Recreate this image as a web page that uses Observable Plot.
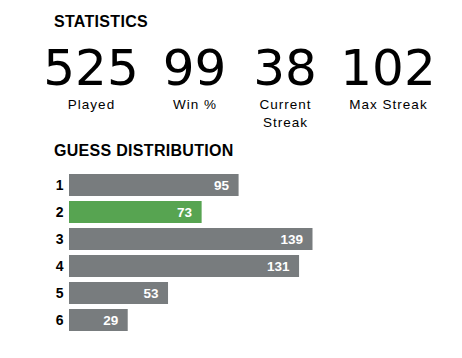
<!DOCTYPE html>
<html>
<head>
<meta charset="utf-8">
<script src="https://cdn.jsdelivr.net/npm/d3@7"></script>
<script src="https://cdn.jsdelivr.net/npm/@observablehq/plot@0.6"></script>
<style>
  html, body { margin: 0; padding: 0; background: #ffffff; }
  body { position: relative; width: 462px; height: 358px; overflow: hidden; font-family: "Liberation Sans", Arial, sans-serif; color: #000; }
  .h { position: absolute; left: 54px; font-size: 16px; line-height: 16px; font-weight: bold; letter-spacing: 0.3px; white-space: nowrap; }
  .num { position: absolute; width: 120px; text-align: center; font-family: "DejaVu Sans", sans-serif; font-size: 50px; line-height: 50px; white-space: nowrap; }
  .lab { position: absolute; width: 120px; text-align: center; font-size: 13.5px; line-height: 18px; letter-spacing: 1px; white-space: pre-line; }
  #chart { position: absolute; left: 0; top: 165px; }
</style>
</head>
<body>
<div class="h" style="top:14px">STATISTICS</div>
<div id="stats"></div>
<div class="h" style="top:143px">GUESS DISTRIBUTION</div>
<div id="chart"></div>
<script>
// Statistics
const statValues = [525, 99, 38, 102];
const statLabels = ["Played", "Win %", "Current\nStreak", "Max Streak"];
// Guess distribution
const guesses = ["1", "2", "3", "4", "5", "6"];
const counts = [95, 73, 139, 131, 53, 29];
const highlightGuess = "2";

// header stats (HTML text)
const statCenters = [91, 194.5, 285, 388];
const statsDiv = document.getElementById("stats");
statValues.forEach((v, i) => {
  const n = document.createElement("div");
  n.className = "num";
  n.style.left = (statCenters[i] - 60) + "px";
  n.style.top = "42.7px";
  n.textContent = String(v);
  statsDiv.appendChild(n);
  const l = document.createElement("div");
  l.className = "lab";
  l.style.left = (statCenters[i] - 60 + 0.5) + "px";
  l.style.top = "96.3px";
  l.textContent = statLabels[i];
  statsDiv.appendChild(l);
});

const data = guesses.map((g, i) => ({guess: g, count: counts[i]}));

const chart = Plot.plot({
  width: 462,
  height: 180,
  marginLeft: 79,
  marginRight: 149.5,
  marginTop: 3,
  marginBottom: 8,
  style: {fontFamily: "'Liberation Sans', Arial, sans-serif", background: "#ffffff", overflow: "visible"},
  x: {domain: [0, d3.max(counts)], axis: null},
  y: {domain: guesses, padding: 0.18, label: null},
  marks: [
    Plot.axisY({tickSize: 0, tickPadding: 16, fontSize: 14, fontWeight: "bold", color: "#000", label: null}),
    Plot.barX(data, {
      x: "count", y: "guess",
      insetLeft: -10,
      fill: d => d.guess === highlightGuess ? "#57a451" : "#787c7e"
    }),
    Plot.text(data, {
      x: "count", y: "guess",
      text: d => String(d.count),
      textAnchor: "end", dx: -10,
      fill: "#ffffff", fontSize: 13.5, fontWeight: "bold"
    })
  ]
});
document.getElementById("chart").appendChild(chart);
</script>
</body>
</html>
